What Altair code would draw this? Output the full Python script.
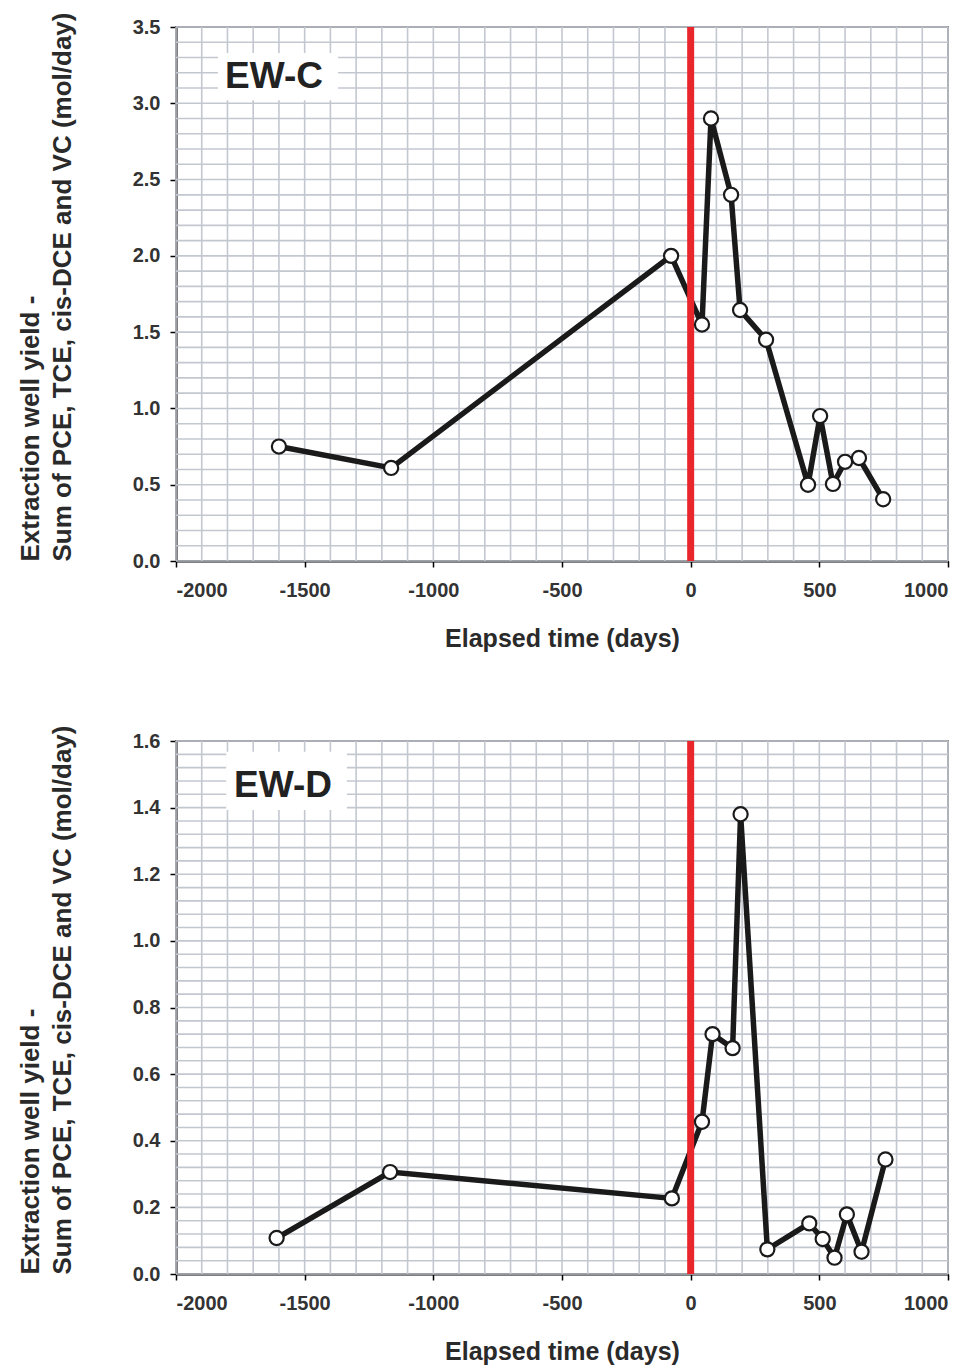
import altair as alt
import pandas as pd

# ---- data ----
days_c = [-1600, -1164, -76, 44, 79, 157, 192, 293, 456, 503, 553, 600, 654, 748]
yield_c = [0.75, 0.61, 2.0, 1.55, 2.9, 2.4, 1.645, 1.45, 0.5, 0.95, 0.505, 0.65, 0.675, 0.405]

days_d = [-1609, -1168, -73, 44, 85, 163, 194, 298, 461, 513, 559, 607, 664, 757]
yield_d = [0.108, 0.306, 0.227, 0.457, 0.72, 0.678, 1.38, 0.074, 0.152, 0.105, 0.049, 0.179, 0.067, 0.344]

tick_days = [-2000, -1500, -1000, -500, 0, 500, 1000]
ticks_c = [0.0, 0.5, 1.0, 1.5, 2.0, 2.5, 3.0, 3.5]
ticks_d = [0.0, 0.2, 0.4, 0.6, 0.8, 1.0, 1.2, 1.4, 1.6]
grid_days = list(range(-2000, 1001, 100))
grid_c = [round(i * 0.1, 2) for i in range(0, 36)]
grid_d = [round(i * 0.04, 2) for i in range(0, 41)]

title_y = ["Extraction well yield -", "Sum of PCE, TCE, cis-DCE and VC (mol/day)"]
title_x = "Elapsed time (days)"

GRID = "#c3c7d0"
RED = "#e8262b"
INK = "#1a1a1a"
FONT = "Liberation Sans"


def panel(days, vals, grid_y, ticks_y, ymax, label, box, text_at, height):
    df = pd.DataFrame({"days": days, "y": vals})
    xs = alt.Scale(domain=[-2000, 1000], nice=False, zero=False)
    ys = alt.Scale(domain=[0, ymax], nice=False, zero=True)
    xaxis = alt.Axis(values=tick_days, labelExpr="'' + datum.value", title=title_x)
    yaxis = alt.Axis(values=ticks_y, format=".1f", title=title_y)

    vgrid = alt.Chart(pd.DataFrame({"g": grid_days})).mark_rule(
        color=GRID, strokeWidth=1.6
    ).encode(x=alt.X("g:Q", scale=xs, axis=xaxis))
    hgrid = alt.Chart(pd.DataFrame({"g": grid_y})).mark_rule(
        color=GRID, strokeWidth=1.6
    ).encode(y=alt.Y("g:Q", scale=ys, axis=yaxis))

    base = alt.Chart(pd.DataFrame({"k": [0]}))
    boxm = base.mark_rect(color="white").encode(
        x=alt.datum(box[0], scale=xs, axis=xaxis), x2=alt.datum(box[1]),
        y=alt.datum(box[2], scale=ys, axis=yaxis), y2=alt.datum(box[3]),
    )
    textm = base.mark_text(
        text=label, font=FONT, fontWeight="bold", fontSize=37, color="#222",
        align="center", baseline="middle",
    ).encode(x=alt.datum(text_at[0], scale=xs, axis=xaxis),
             y=alt.datum(text_at[1], scale=ys, axis=yaxis))

    line = alt.Chart(df).mark_line(color=INK, strokeWidth=5.5).encode(
        x=alt.X("days:Q", scale=xs, axis=xaxis),
        y=alt.Y("y:Q", scale=ys, axis=yaxis),
    )
    red = base.mark_rule(color=RED, strokeWidth=7).encode(
        x=alt.datum(0, scale=xs, axis=xaxis))
    pts = alt.Chart(df).mark_point(
        shape="circle", filled=True, fill="white", stroke=INK, strokeWidth=2.2,
        size=200, opacity=1,
    ).encode(x=alt.X("days:Q", scale=xs, axis=xaxis),
             y=alt.Y("y:Q", scale=ys, axis=yaxis))

    return alt.layer(vgrid, hgrid, boxm, textm, line, red, pts).properties(
        width=772, height=height
    )


top = panel(days_c, yield_c, grid_c, ticks_c, 3.5, "EW-C",
            [-1837, -1370, 3.02, 3.33], [-1619, 3.17], 534)
bottom = panel(days_d, yield_d, grid_d, ticks_d, 1.6, "EW-D",
               [-1805, -1336, 1.393, 1.568], [-1584, 1.465], 533)

chart = alt.vconcat(top, bottom, spacing=72).properties(
    padding={"left": 8, "top": 3, "right": 5, "bottom": 2}
).configure_view(
    stroke="#333", strokeWidth=1.5
).configure_axis(
    grid=False,
    domainColor="black", domainWidth=2,
    tickColor="black", tickWidth=1.5, tickSize=6,
    labelFont=FONT, labelFontWeight="bold", labelFontSize=20, labelColor="#333",
    titleFont=FONT, titleFontWeight="bold", titleColor="#2a2a2a",
).configure_axisX(
    labelPadding=13, titleFontSize=25, titlePadding=26,
).configure_axisY(
    labelPadding=10, titleFontSize=26, titleLineHeight=32, titlePadding=57,
    titleAnchor="start",
)

chart.save("out.html", embed_options={"renderer": "svg", "actions": False})
